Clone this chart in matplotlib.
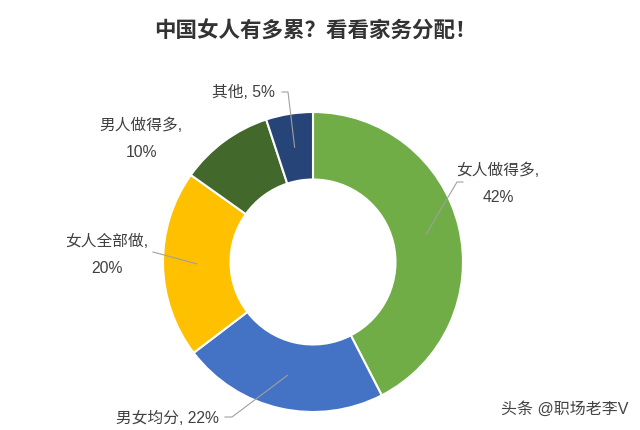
import numpy as np
import matplotlib
matplotlib.use('Agg')
from matplotlib import pyplot as plt

plt.rcParams['font.family'] = ['Liberation Sans', 'Noto Sans CJK SC', 'DejaVu Sans']

labels = ['女人做得多', '男女均分', '女人全部做', '男人做得多', '其他']
values = [42, 22, 20, 10, 5]
colors = ['#70AD47', '#4472C4', '#FFC000', '#43682B', '#264478']
title = '中国女人有多累？看看家务分配！'

W, H = 640, 431
cx, cy = 313, H - 263
R = 150
ring = 0.45

fig = plt.figure(figsize=(6.4, 4.31), dpi=100)
ax = fig.add_axes([0, 0, 1, 1])
wedges, _ = ax.pie(values, colors=colors, startangle=90, counterclock=False,
                   center=(cx, cy), radius=R,
                   wedgeprops=dict(width=R * ring, edgecolor='white', linewidth=1.5))
ax.set_xlim(0, W)
ax.set_ylim(0, H)
ax.set_aspect('equal')
ax.axis('off')

txt = '#404040'
line = '#A0A0A0'
fs = 11.3

# label texts (image coords, y from top)
label_pos = {
    0: (498, 184, labels[0] + ',\n%d%%' % values[0]),
    1: (167, 418, labels[1] + ', %d%%' % values[1]),
    2: (107, 255, labels[2] + ',\n%d%%' % values[2]),
    3: (141, 139, labels[3] + ',\n%d%%' % values[3]),
    4: (243, 92, labels[4] + ', %d%%' % values[4]),
}
for i, (x, y, s) in label_pos.items():
    ax.text(x, H - y, s, ha='center', va='center', fontsize=fs, color=txt,
            linespacing=1.98)

# leader lines from the middle of the ring
elbows = {
    0: [(457, 183), (463, 183)],
    1: [(232, 418), (225, 418)],
    2: [(153, 253)],
    4: [(288, 93), (282, 93)],
}
rmid = R - R * ring / 2
for i, pts in elbows.items():
    w = wedges[i]
    ang = np.deg2rad((w.theta1 + w.theta2) / 2)
    x0 = cx + rmid * np.cos(ang)
    y0 = cy + rmid * np.sin(ang)
    xs = [x0] + [p[0] for p in pts]
    ys = [y0] + [H - p[1] for p in pts]
    ax.plot(xs, ys, color=line, lw=0.8)

ax.text(315, H - 32, title, ha='center', va='center', fontsize=15.5,
        fontweight='bold', color='#333333')
ax.text(628, H - 409, '头条 @职场老李V', ha='right', va='center', fontsize=11.5,
        color='#444444')

plt.savefig('out.png', dpi=100)
